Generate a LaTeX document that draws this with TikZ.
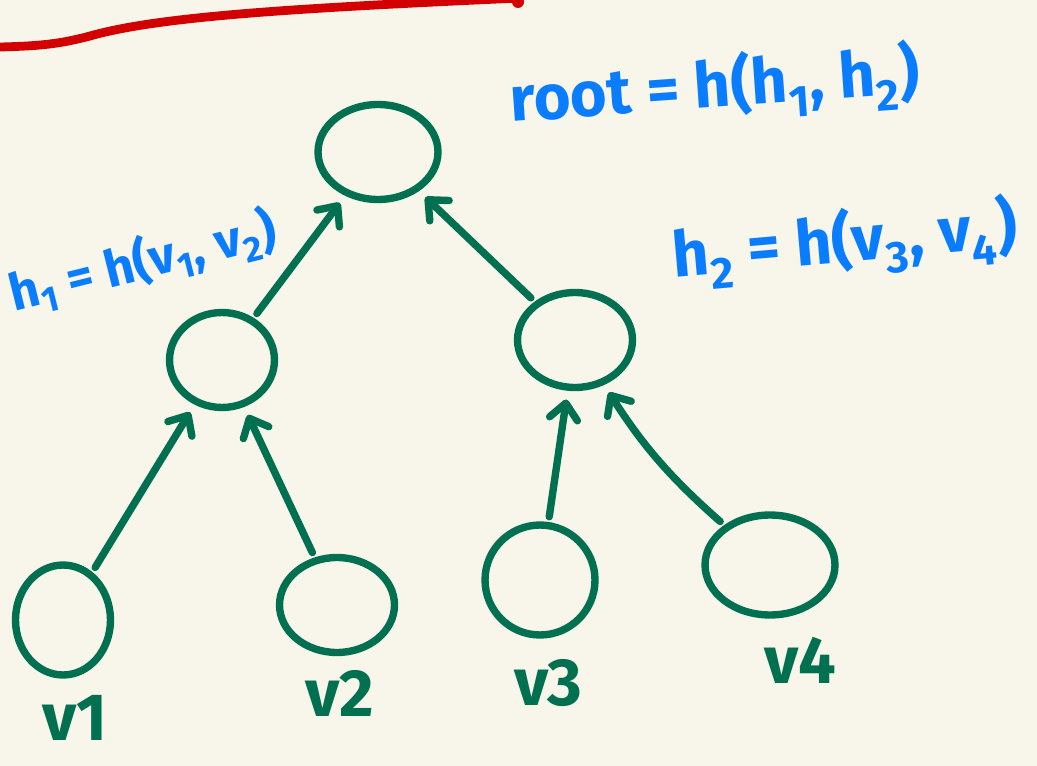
\documentclass[tikz,border=0pt]{standalone}
\usepackage{fontspec}
\setmainfont{Fira Sans}
\usepackage{tikz}
\usetikzlibrary{
	positioning,
	arrows.meta,
	shapes.geometric
}
\definecolor{TreeGreen}{RGB}{0,112,80}
\definecolor{HashBlue}{RGB}{10,125,255}
\definecolor{InkRed}{RGB}{210,0,0}
\definecolor{Paper}{RGB}{248,246,234}

\begin{document}
\begin{tikzpicture}[
	x=0.02cm,
	y=-0.02cm,
	hashnode/.style={
		ellipse,
		draw=TreeGreen,
		line width=4.2pt,
		inner sep=0pt
	},
	hashedge/.style={
		-{Straight Barb[length=9pt,width=16pt,round]},
		line width=4.2pt,
		line cap=round,
		TreeGreen,
		shorten <=3pt,
		shorten >=5pt
	},
	leaflabel/.style={
		text=TreeGreen,
		font=\fontsize{38}{42}\selectfont\bfseries
	},
	hashlabel/.style={
		text=HashBlue,
		font=\fontsize{36}{40}\selectfont\bfseries
	}
	]
	
	% paper
	\fill[Paper] (0,0) rectangle (1037,766);
	\useasboundingbox (0,0) rectangle (1037,766);
	
	% red stroke at the top
	\draw[InkRed, line width=5pt, line cap=round]
	(0,47) .. controls (40,46) and (60,44) .. (90,36)
	.. controls (160,16) and (300,8) .. (520,-2);
	\fill[InkRed] (518,2) circle (6);
	
	% tree
	\node[hashnode, minimum width=2.4cm, minimum height=1.9cm] (root) at (378,152) {};
	\node[hashnode, minimum width=2.1cm, minimum height=1.9cm] (h1) at (222,360) {};
	\node[hashnode, minimum width=2.3cm, minimum height=1.9cm] (h2) at (575,340) {};
	\node[hashnode, minimum width=1.9cm, minimum height=2.2cm] (v1) at (63,620) {};
	\node[hashnode, minimum width=2.3cm, minimum height=1.9cm] (v2) at (337,605) {};
	\node[hashnode, minimum width=2.2cm, minimum height=2.2cm] (v3) at (540,580) {};
	\node[hashnode, minimum width=2.6cm, minimum height=2.0cm] (v4) at (770,565) {};
	
	\draw[hashedge] (v1) -- (h1);
	\draw[hashedge] (v2) -- (h1);
	\draw[hashedge] (v3) -- (h2);
	\draw[hashedge] (v4) to[bend left=8] (h2);
	\draw[hashedge] (h1) -- (root);
	\draw[hashedge] (h2) -- (root);
	
	% leaf names
	\node[leaflabel] (v1name) at (75,718) {v1};
	\node[leaflabel] (v2name) at (340,693) {v2};
	\node[leaflabel] (v3name) at (548,683) {v3};
	\node[leaflabel] (v4name) at (800,660) {v4};
	
	% hashes
	\node[hashlabel, rotate=4] (rootname) at (715,88) {root = h(h\textsubscript{1}, h\textsubscript{2})};
	\node[hashlabel, rotate=14, font=\fontsize{29}{33}\selectfont\bfseries] (h1name) at (143,262) {h\textsubscript{1} = h(v\textsubscript{1}, v\textsubscript{2})};
	\node[hashlabel, rotate=5] (h2name) at (845,243) {h\textsubscript{2} = h(v\textsubscript{3}, v\textsubscript{4})};
	
\end{tikzpicture}
\end{document}
